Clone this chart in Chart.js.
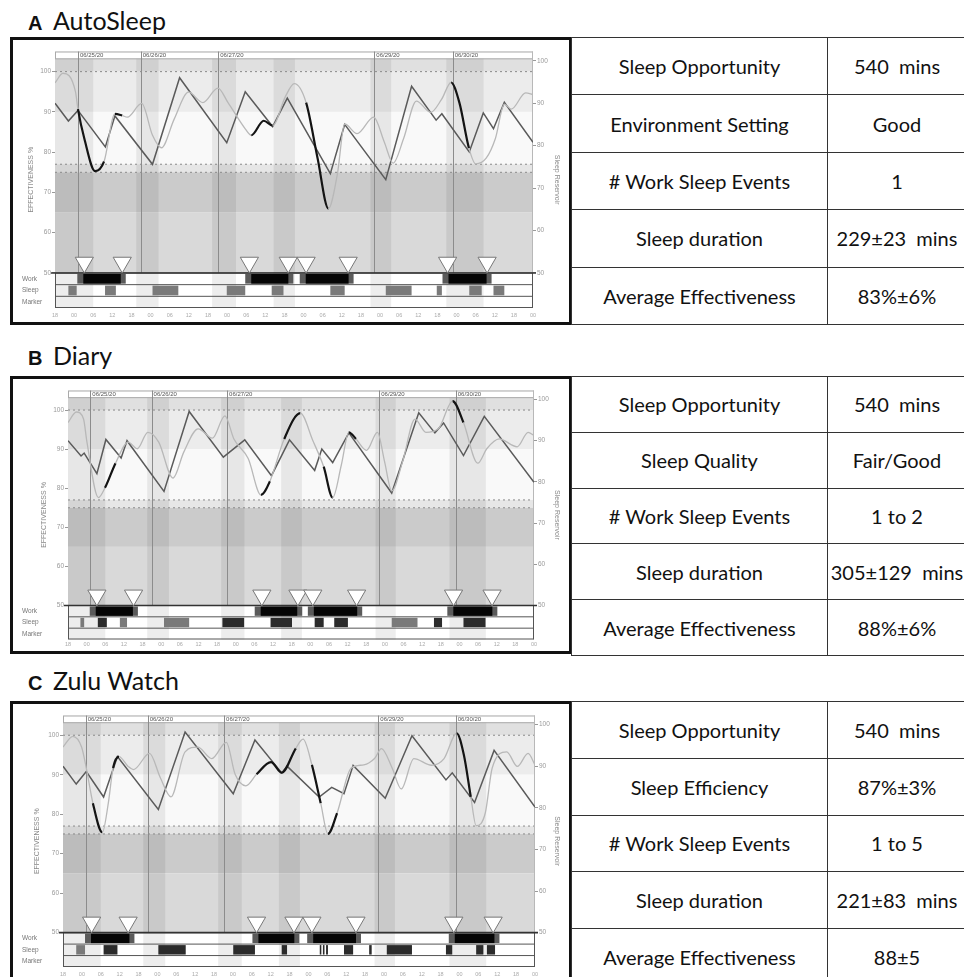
<!DOCTYPE html>
<html>
<head>
<meta charset="utf-8">
<script src="https://cdn.jsdelivr.net/npm/chart.js@4.4.1/dist/chart.umd.min.js"></script>
<style>
body { margin:0; background:#fff; width:964px; height:977px; position:relative; overflow:hidden; font-family: Lato, 'Open Sans', sans-serif; }
.title { position:absolute; left:28px; height:30px; line-height:30px; color:#111; white-space:nowrap; }
.title b { font-family:'Liberation Sans', Arial, sans-serif; font-size:20px; display:inline-block; width:25px; }
.title span { font-size:25px; }
.box { position:absolute; left:10px; width:556px; border:3px solid #111; }
.box canvas { display:block; }
table.stats { position:absolute; left:571px; width:396px; border-collapse:collapse; table-layout:fixed; }
table.stats td { border:1.8px solid #333; text-align:center; font-size:20px; color:#111; white-space:pre; padding:0; }
table.stats td:first-child { width:255px; }
</style>
</head>
<body>

<div class="title" style="top:5px"><b>A</b><span>AutoSleep</span></div>
<div class="box" style="top:37px;height:282px"><canvas id="chartA" width="556" height="282"></canvas></div>
<table class="stats" id="tableA" style="top:37px;height:288px"></table>

<div class="title" style="top:340px"><b>B</b><span>Diary</span></div>
<div class="box" style="top:376px;height:272px"><canvas id="chartB" width="556" height="272"></canvas></div>
<table class="stats" id="tableB" style="top:376px;height:280px"></table>

<div class="title" style="top:665px"><b>C</b><span>Zulu Watch</span></div>
<div class="box" style="top:701px;height:277px"><canvas id="chartC" width="556" height="277"></canvas></div>
<table class="stats" id="tableC" style="top:701px;height:285px"></table>

<script>
// x values are hours since 18:00 on 06/24/20
const dateLabels = ['06/25/20', '06/26/20', '06/27/20', '06/29/20', '06/30/20'];
const dateHours = [7.2, 26.9, 51.2, 100.2, 124.8];
const nightBands = [[0, 12], [25.5, 32.5], [49.3, 56.8], [68.6, 75.3], [99, 105.5], [122.8, 134.5]];

// ---- A AutoSleep
const aResHours = [0, 4.2, 7.2, 15.8, 18.8, 30.6, 39.1, 53.9, 59.7, 68.3, 72.9, 86.4, 90.9, 103.8, 111.9, 119.6, 121.4, 130, 134.4, 137.6, 141, 150];
const aRes = [90.0, 85.8, 88.3, 79.7, 87.0, 75.6, 96.0, 80.7, 92.7, 84.5, 91.2, 73.4, 85.0, 72.0, 94.0, 86.0, 87.5, 78.5, 87.7, 84.0, 90.2, 80.8];
const aEffHours = [0, 2.5, 6.4, 7.2, 9.2, 12.6, 15.4, 18.8, 21.1, 22.7, 27.2, 30.6, 33.4, 37.4, 41.9, 46.4, 51.1, 54.3, 59.7, 61.6, 65.5, 68.3, 72.3, 75.1, 78.8, 82.4, 85.8, 88.6, 90.9, 94.8, 100, 103.3, 106.1, 109.4, 113.4, 117.9, 121.3, 124.3, 126.9, 129.9, 132, 135.3, 138.2, 141, 143.2, 147.7, 150];
const aEff = [97.2, 99.6, 95.1, 90.7, 83.4, 75.3, 77.7, 89.5, 89.1, 88.7, 92.1, 84.2, 81.1, 88.2, 94.9, 92.3, 95.9, 92.3, 85.8, 84.2, 87.8, 86.6, 93.8, 97.0, 92.3, 78.5, 66.0, 74.5, 87.0, 84.6, 88.7, 82.6, 77.3, 83.4, 92.7, 89.9, 93.1, 97.3, 92.3, 81.0, 77.1, 78.5, 83.4, 91.9, 90.7, 94.7, 94.3];
const aBlack = [[8, 15.5], [18.8, 20.5], [61.5, 68.5], [72, 73.5], [78.5, 86.5], [90.8, 92.5], [123, 130], [134, 135.5]];
const aWork = [[7.0, 22.2], [59.7, 74.8], [76.8, 93.7], [121.6, 137.0]];
const aSleepGrey = [[4.2, 6.8], [15.7, 19.1], [30.6, 38.7], [53.9, 59.7], [68, 71.7], [86.4, 90.9], [103.8, 111.9], [119.8, 121.4], [130, 133.9], [137.6, 141]];
const aSleepDark = [];
const aMarkers = [9.2, 21.1, 61.0, 73.2, 78.8, 92.0, 123.2, 135.6];
const aStatNames = ['Sleep Opportunity', 'Environment Setting', '# Work Sleep Events', 'Sleep duration', 'Average Effectiveness'];
const aStatValues = ['540  mins', 'Good', '1', '229±23  mins', '83%±6%'];

// ---- B Diary
const bResHours = [0, 4.2, 5.2, 9.3, 12.2, 17.1, 19.0, 30.9, 39.0, 50.0, 56.9, 65.5, 71.3, 79.4, 81.7, 85.2, 90.4, 104.2, 112.9, 118.1, 120.9, 127.3, 134.0, 150];
const bRes = [90.0, 86.3, 87.0, 82.0, 90.3, 85.8, 90.0, 77.7, 97.1, 86.0, 90.2, 81.5, 90.2, 82.8, 88.0, 84.7, 91.9, 77.3, 96.8, 91.9, 94.3, 86.4, 95.9, 79.9];
const bEffHours = [0, 2.7, 5.0, 6.1, 9.8, 11.9, 15.3, 19.4, 22.3, 25.7, 29.2, 33.8, 37.3, 41.9, 46.5, 50.5, 53.4, 58.0, 62.1, 65.0, 69.6, 74.8, 78.8, 82.3, 85.2, 88.0, 90.4, 92.7, 96.1, 99.6, 101.9, 104.2, 107.7, 111.7, 115.2, 119.2, 123.8, 127.3, 131.9, 134.8, 138.8, 144.6, 148.1, 150];
const bEff = [96.8, 99.5, 97.7, 91.8, 77.6, 80.1, 86.4, 91.8, 90.1, 94.3, 91.8, 82.6, 89.3, 95.2, 92.8, 98.5, 92.6, 87.6, 78.3, 81.8, 92.6, 99.2, 92.2, 85.5, 77.6, 86.0, 94.3, 92.6, 89.7, 94.3, 86.8, 79.3, 86.8, 97.7, 94.3, 95.2, 102.3, 96.8, 86.4, 90.1, 92.6, 90.6, 94.3, 93.5];
const bBlack = [[11.9, 17.1], [19.4, 20.2], [62, 65.2], [71.7, 73], [81.7, 85.2], [90.4, 92.7], [123.8, 127.3], [134, 136]];
const bWork = [[7.0, 22.5], [60.1, 75.4], [77.2, 94.7], [122.1, 138.2]];
const bSleepGrey = [[4.0, 5.2], [16.7, 19.0], [30.9, 39.0], [104.2, 112.5]];
const bSleepDark = [[9.6, 12.5], [49.7, 56.7], [65.2, 72.1], [79.4, 82.3], [85.7, 90.1], [117.8, 120.4], [127.3, 134.4]];
const bMarkers = [9.3, 21.1, 62.4, 74.0, 78.8, 92.9, 124.1, 136.5];
const bStatNames = ['Sleep Opportunity', 'Sleep Quality', '# Work Sleep Events', 'Sleep duration', 'Average Effectiveness'];
const bStatValues = ['540  mins', 'Fair/Good', '1 to 2', '305±129  mins', '88%±6%'];

// ---- C Zulu Watch
const cResHours = [0, 4.2, 7.4, 12.9, 17.3, 30.3, 38.8, 54.1, 61.0, 69.5, 71.2, 81.4, 85.4, 89.3, 92.2, 102.4, 110.9, 121.7, 123.7, 130.8, 137.0, 150];
const cRes = [90.0, 85.7, 88.7, 82.6, 92.3, 79.6, 98.2, 83.4, 96.3, 88.4, 90.0, 82.6, 84.9, 83.4, 90.2, 82.3, 97.3, 86.7, 88.4, 81.3, 93.8, 80.2];
const cEffHours = [0, 3.1, 5.9, 7.4, 9.5, 12.5, 14.4, 15.9, 17.8, 20.7, 22.4, 27.5, 30.9, 34.3, 38.8, 42.8, 47.3, 51.9, 54.7, 58.1, 61.5, 66.1, 69.5, 74.0, 76.3, 79.1, 81.9, 84.2, 87.1, 91.6, 95.6, 99.0, 101.2, 104.6, 107.5, 111.5, 117.1, 121.1, 125.1, 127.4, 129.6, 131.3, 134.2, 136.4, 141.0, 144.4, 147.8, 150];
const cEff = [97.0, 99.7, 97.0, 91.7, 82.8, 75.4, 82.8, 91.7, 94.6, 92.1, 91.3, 95.4, 89.3, 84.4, 95.8, 97.0, 94.1, 98.2, 90.1, 87.2, 90.1, 93.2, 90.5, 96.7, 99.0, 92.5, 82.8, 75.0, 80.3, 91.7, 92.5, 94.1, 96.6, 91.7, 86.4, 94.1, 92.4, 94.1, 100.5, 95.0, 84.4, 77.1, 80.3, 91.7, 95.8, 92.1, 95.4, 92.5];
const cBlack = [[9.1, 12.7], [16.7, 19], [61.5, 69.5], [70.6, 74], [79.1, 81.9], [85.4, 89.3], [125.1, 130.2], [133, 134.2]];
const cWork = [[7.0, 22.7], [60.2, 75.1], [77.6, 94.7], [122.6, 138.7]];
const cSleepGrey = [[4.2, 7.0]];
const cSleepDark = [[12.9, 17.3], [30.3, 39.0], [54.1, 61.0], [69.5, 71.2], [81.6, 82.1], [82.6, 83.1], [83.6, 84.2], [89.3, 92.2], [97.3, 98.1], [102.9, 110.9], [121.7, 123.7], [131.3, 133.6], [134.7, 137.3]];
const cMarkers = [9.1, 20.7, 61.5, 73.4, 79.1, 93.1, 124.2, 136.7];
const cStatNames = ['Sleep Opportunity', 'Sleep Efficiency', '# Work Sleep Events', 'Sleep duration', 'Average Effectiveness'];
const cStatValues = ['540  mins', '87%±3%', '1 to 5', '221±83  mins', '88±5'];

// row layout on the effectiveness axis (below 50)
const ROW_WORK = 50, ROW_SLEEP = 47.1, ROW_MARKER = 44.2, ROW_END = 41.3;
const HEADER_BOTTOM = 103.3;

function inRanges(ranges, v) {
    return ranges.some(r => v >= r[0] && v <= r[1]);
}

const schedPlugin = {
    id: 'sched',
    beforeDatasetsDraw(chart, args, o) {
        const ctx = chart.ctx, a = chart.chartArea;
        const xs = chart.scales.x, ys = chart.scales.y;
        const X = v => xs.getPixelForValue(v), Y = v => ys.getPixelForValue(v);
        ctx.save();

        // horizontal effectiveness zones
        const zones = [[100, 105, '#e0e0e0'], [90, 100, '#ececec'], [77, 90, '#f9f9f9'], [75, 77, '#e6e6e6'], [65, 75, '#cbcbcb'], [50, 65, '#d9d9d9']];
        zones.forEach(z => {
            ctx.fillStyle = z[2];
            ctx.fillRect(a.left, Y(z[1]), a.width, Y(z[0]) - Y(z[1]));
        });
        // rows background
        ctx.fillStyle = '#fff';
        ctx.fillRect(a.left, Y(ROW_WORK), a.width, a.bottom - Y(ROW_WORK));

        // night bands
        ctx.fillStyle = 'rgba(0,0,0,0.07)';
        nightBands.forEach(b => ctx.fillRect(X(b[0]), Y(HEADER_BOTTOM), X(b[1]) - X(b[0]), a.bottom - Y(HEADER_BOTTOM)));

        // header strip with dates
        ctx.fillStyle = '#fff';
        ctx.fillRect(a.left, a.top, a.width, Y(HEADER_BOTTOM) - a.top);
        ctx.strokeStyle = '#aaa';
        ctx.lineWidth = 1;
        ctx.strokeRect(a.left + 0.5, a.top + 0.5, a.width - 1, Y(HEADER_BOTTOM) - a.top);
        ctx.fillStyle = '#555';
        ctx.font = '6px "Liberation Sans", Arial';
        ctx.textBaseline = 'middle';
        ctx.textAlign = 'left';
        dateHours.forEach((h, i) => ctx.fillText(dateLabels[i], X(h) + 2, (a.top + Y(HEADER_BOTTOM)) / 2 + 0.5));

        // dashed reference lines
        ctx.strokeStyle = '#8a8a8a';
        ctx.setLineDash([2, 3]);
        [100, 77, 75].forEach(v => {
            ctx.beginPath(); ctx.moveTo(a.left, Y(v)); ctx.lineTo(a.right, Y(v)); ctx.stroke();
        });
        ctx.setLineDash([]);

        // day lines
        ctx.strokeStyle = '#8c8c8c';
        dateHours.forEach(h => {
            ctx.beginPath(); ctx.moveTo(Math.round(X(h)) + 0.5, a.top); ctx.lineTo(Math.round(X(h)) + 0.5, Y(ROW_WORK)); ctx.stroke();
        });
        // right edge of plot
        ctx.strokeStyle = '#b8b8b8';
        ctx.beginPath(); ctx.moveTo(a.right - 0.5, a.top); ctx.lineTo(a.right - 0.5, a.bottom); ctx.stroke();

        // work blocks
        const rowTop = Y(ROW_WORK), rowMid = Y(ROW_SLEEP), rowLow = Y(ROW_MARKER);
        o.work.forEach(w => {
            const x0 = X(w[0]), x1 = X(w[1]);
            ctx.fillStyle = '#5a5a5a';
            ctx.fillRect(x0, rowTop + 1, x1 - x0, rowMid - rowTop - 2);
            ctx.fillStyle = '#050505';
            ctx.fillRect(x0 + 6, rowTop + 1, x1 - x0 - 11, rowMid - rowTop - 2);
        });
        // sleep blocks
        [[o.sleepGrey, '#7a7a7a'], [o.sleepDark, '#2b2b2b']].forEach(p => {
            ctx.fillStyle = p[1];
            p[0].forEach(s => ctx.fillRect(X(s[0]), rowMid + 1, X(s[1]) - X(s[0]), rowLow - rowMid - 2));
        });

        // row grid
        ctx.strokeStyle = '#555';
        ctx.lineWidth = 1;
        ctx.strokeRect(a.left + 0.5, rowTop, a.width - 1, a.bottom - rowTop - 0.5);
        [ROW_SLEEP, ROW_MARKER].forEach(v => {
            ctx.beginPath(); ctx.moveTo(a.left, Y(v)); ctx.lineTo(a.right, Y(v)); ctx.stroke();
        });
        ctx.strokeStyle = '#333';
        ctx.lineWidth = 1.6;
        ctx.beginPath(); ctx.moveTo(a.left - 4, rowTop); ctx.lineTo(a.right + 3, rowTop); ctx.stroke();

        // row labels
        ctx.fillStyle = '#777';
        ctx.font = '6.5px "Liberation Sans", Arial';
        ctx.fillText('Work', o.labelX, (rowTop + rowMid) / 2);
        ctx.fillText('Sleep', o.labelX, (rowMid + rowLow) / 2);
        ctx.fillText('Marker', o.labelX, (rowLow + a.bottom) / 2);
        ctx.restore();
    }
};
Chart.register(schedPlugin);

function makePanel(id, d, g) {
    const ctx = document.getElementById(id).getContext('2d');
    const tickFont = { size: 6.5, family: 'Liberation Sans' };
    const titleFont = { size: 7, family: 'Liberation Sans' };
    return new Chart(ctx, {
        type: 'line',
        data: {
            datasets: [{
                label: 'Markers',
                data: d.markers.map(h => ({ x: h, y: 52.6 })),
                showLine: false,
                pointStyle: 'triangle',
                rotation: 180,
                radius: 10.5,
                backgroundColor: '#fff',
                borderColor: '#777',
                borderWidth: 1
            }, {
                label: 'Effectiveness',
                data: d.effHours.map((h, i) => ({ x: h, y: d.eff[i] })),
                yAxisID: 'y',
                borderColor: '#b8b8b8',
                borderWidth: 1.3,
                pointRadius: 0,
                cubicInterpolationMode: 'monotone',
                segment: {
                    borderColor: c => inRanges(d.black, (c.p0.parsed.x + c.p1.parsed.x) / 2) ? '#141414' : undefined,
                    borderWidth: c => inRanges(d.black, (c.p0.parsed.x + c.p1.parsed.x) / 2) ? 2.2 : undefined
                }
            }, {
                label: 'Sleep Reservoir',
                data: d.resHours.map((h, i) => ({ x: h, y: d.res[i] })),
                yAxisID: 'y2',
                borderColor: '#5a5a5a',
                borderWidth: 1.5,
                pointRadius: 0,
                tension: 0
            }]
        },
        options: {
            responsive: false,
            animation: false,
            events: [],
            layout: { padding: { top: g.top, left: 0, right: 0, bottom: 0 } },
            plugins: {
                legend: { display: false },
                tooltip: { enabled: false },
                sched: { work: d.work, sleepGrey: d.sleepGrey, sleepDark: d.sleepDark, labelX: 9 }
            },
            scales: {
                x: {
                    type: 'linear',
                    min: 0,
                    max: 150,
                    grid: { display: false },
                    border: { display: false },
                    afterFit: s => { s.height = g.bottom; },
                    afterBuildTicks: s => { s.ticks = []; for (let h = 0; h <= 150; h += 6) s.ticks.push({ value: h }); },
                    ticks: {
                        color: '#aaa',
                        font: { size: 5.5, family: 'Liberation Sans' },
                        padding: g.xPad,
                        maxRotation: 0,
                        autoSkip: false,
                        callback: v => String((18 + v) % 24).padStart(2, '0')
                    }
                },
                y: {
                    position: 'left',
                    min: ROW_END,
                    max: 105,
                    border: { display: false },
                    grid: { drawOnChartArea: false, drawTicks: true, tickLength: 3, tickColor: '#999' },
                    afterFit: s => { s.width = g.left; },
                    afterBuildTicks: s => { s.ticks = [50, 60, 70, 80, 90, 100].map(v => ({ value: v })); },
                    ticks: { color: '#999', font: tickFont, padding: 1 },
                    title: { display: true, text: 'EFFECTIVENESS %', color: '#888', font: titleFont, padding: { top: g.titlePad, bottom: 0 } }
                },
                y2: {
                    position: 'right',
                    min: 41.75,
                    max: 102.18,
                    border: { display: false },
                    grid: { drawOnChartArea: false, drawTicks: true, tickLength: 3, tickColor: '#999' },
                    afterFit: s => { s.width = g.right; },
                    afterBuildTicks: s => { s.ticks = [50, 60, 70, 80, 90, 100].map(v => ({ value: v })); },
                    ticks: { color: '#999', font: tickFont, padding: 1 },
                    title: { display: true, text: 'Sleep Reservoir', color: '#888', font: titleFont, padding: { top: 8, bottom: 0 } }
                }
            }
        }
    });
}

function fillTable(id, names, values) {
    const t = document.getElementById(id);
    names.forEach((n, i) => {
        const tr = document.createElement('tr');
        const a = document.createElement('td');
        const b = document.createElement('td');
        a.textContent = n;
        b.textContent = values[i];
        tr.appendChild(a);
        tr.appendChild(b);
        t.appendChild(tr);
    });
}

makePanel('chartA', {
    resHours: aResHours, res: aRes, effHours: aEffHours, eff: aEff, black: aBlack,
    work: aWork, sleepGrey: aSleepGrey, sleepDark: aSleepDark, markers: aMarkers
}, { left: 42, right: 36, top: 8, bottom: 14, titlePad: 14, xPad: -4 });
makePanel('chartB', {
    resHours: bResHours, res: bRes, effHours: bEffHours, eff: bEff, black: bBlack,
    work: bWork, sleepGrey: bSleepGrey, sleepDark: bSleepDark, markers: bMarkers
}, { left: 55, right: 35, top: 8, bottom: 8, titlePad: 27, xPad: -6 });
makePanel('chartC', {
    resHours: cResHours, res: cRes, effHours: cEffHours, eff: cEff, black: cBlack,
    work: cWork, sleepGrey: cSleepGrey, sleepDark: cSleepDark, markers: cMarkers
}, { left: 50, right: 34, top: 3, bottom: 14, titlePad: 20, xPad: -4 });

fillTable('tableA', aStatNames, aStatValues);
fillTable('tableB', bStatNames, bStatValues);
fillTable('tableC', cStatNames, cStatValues);
</script>
</body>
</html>
